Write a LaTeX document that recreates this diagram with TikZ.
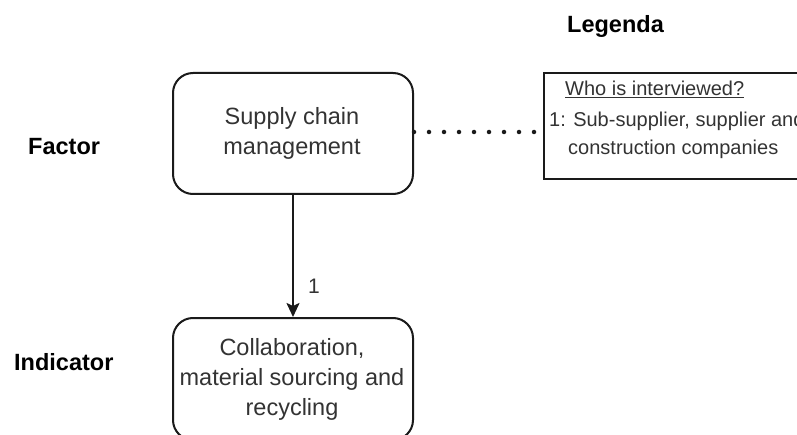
\documentclass[tikz,border=0pt]{standalone}
\usepackage{fontspec}
\setmainfont{Liberation Sans}
\usetikzlibrary{arrows.meta}
\definecolor{boxtext}{HTML}{333333}
\definecolor{edge}{HTML}{1A1A1A}
\begin{document}
\begin{tikzpicture}[x=1pt,y=-1pt,
  rowlabel/.style={font=\fontsize{23.5}{28}\selectfont\bfseries, text=black, inner sep=0pt},
  roundbox/.style={draw=edge, line width=2pt, rounded corners=20pt, fill=white,
    minimum width=240pt, minimum height=121pt, inner sep=0pt, anchor=north west},
  boxlabel/.style={font=\fontsize{23.5}{30}\selectfont, text=boxtext, align=center, inner sep=0pt},
  legendtext/.style={font=\fontsize{20}{24}\selectfont, text=boxtext, inner sep=0pt, anchor=base west},
  flow/.style={draw=edge, line width=2pt, -{Stealth[length=14pt,width=13pt,inset=3pt]}},
  dotlink/.style={draw=edge, line width=4.5pt, line cap=round, dash pattern=on 0pt off 15pt}]
  \useasboundingbox (0,0) rectangle (797,435);
  \clip (0,0) rectangle (797,435);
  \fill[white] (0,0) rectangle (797,435);

  % row labels
  \node[rowlabel, anchor=base west] (factorlbl) at (28,155) {Factor};
  \node[rowlabel, anchor=base west] (indlbl) at (14,370) {Indicator};
  \node[rowlabel, anchor=base west] (legtitle) at (567,33) {Legenda};

  % factor and indicator boxes
  \node[roundbox] (scm) at (172,72) {};
  \node[boxlabel] (scmtext) at (292,133) {Supply chain\\management};
  \node[roundbox, minimum height=122pt] (collab) at (172,317) {};
  \node[boxlabel] (collabtext) at (292,379) {Collaboration,\\material sourcing and\\recycling};

  % legend box (runs past the right edge)
  \node[draw=edge, line width=2pt, minimum width=300pt, minimum height=106pt,
        inner sep=0pt, anchor=north west, fill=white] (legbox) at (543,72) {};
  \node[legendtext] (legq) at (565,96) {\underline{Who is interviewed?}};
  \node[legendtext] (leg1) at (549,127) {1: Sub-supplier, supplier and};
  \node[legendtext] (leg2) at (568,155) {construction companies};

  % connectors
  \draw[flow] (scm.south) -- node[pos=0.75, right=14pt, font=\fontsize{21}{24}\selectfont, text=boxtext, inner sep=0pt] (edgelbl) {1} (collab.north);
  \draw[dotlink] (scm.east |- 0,132) -- (legbox.west |- 0,132);
\end{tikzpicture}
\end{document}
